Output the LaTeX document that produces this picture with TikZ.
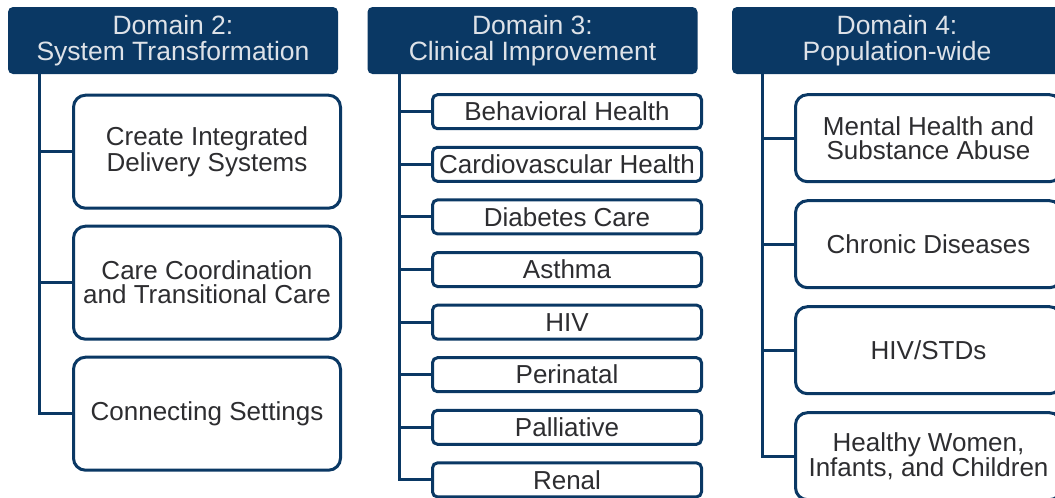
\documentclass[tikz,border=0pt]{standalone}
\usepackage{fontspec}
\setmainfont{Liberation Sans}
\usetikzlibrary{positioning}
\definecolor{navy}{RGB}{10,56,100}
\definecolor{inkgray}{RGB}{45,45,48}
\definecolor{paleink}{RGB}{222,226,232}
\tikzstyle{domainhead} = [rectangle, rounded corners=5pt, minimum width=330pt, minimum height=67pt, text centered, align=center, fill=navy, text=paleink, font=\fontsize{26.5}{26}\selectfont]
\tikzstyle{bigbox} = [rectangle, rounded corners=12pt, minimum width=267pt, minimum height=113pt, text centered, align=center, draw=navy, line width=3pt, fill=white, text=inkgray, font=\fontsize{26}{24}\selectfont]
\tikzstyle{slimbox} = [rectangle, rounded corners=5pt, minimum width=269pt, minimum height=34pt, inner sep=0pt, text centered, draw=navy, line width=3pt, fill=white, text=inkgray, font=\fontsize{26}{24}\selectfont]
\tikzstyle{midbox} = [rectangle, rounded corners=12pt, minimum width=266pt, minimum height=87pt, text centered, align=center, draw=navy, line width=3pt, fill=white, text=inkgray, font=\fontsize{26}{24}\selectfont]
\tikzstyle{link} = [navy, line width=3pt]

\begin{document}
\begin{tikzpicture}[x=1pt, y=1pt]
	\useasboundingbox (0,0) rectangle (1055,-498);
	\clip (0,0) rectangle (1055,-498);
	% headers
	\node (d2) [domainhead] at (173,-40.5) {Domain 2:\\System Transformation};
	\node (d3) [domainhead] at (532.5,-40.5) {Domain 3:\\Clinical Improvement};
	\node (d4) [domainhead] at (897,-40.5) {Domain 4:\\Population-wide};
	% domain 2
	\node (ts1) [bigbox, below=19.5pt of d2, xshift=34pt] {Create Integrated\\Delivery Systems};
	\node (ts2) [bigbox, below=15pt of ts1] {Care Coordination\\and Transitional Care};
	\node (ts3) [bigbox, below=15pt of ts2] {Connecting Settings};
	% domain 3
	\node (ci1) [slimbox, below=19pt of d3, xshift=34.5pt] {Behavioral Health};
	\node (ci2) [slimbox, below=15.6pt of ci1] {Cardiovascular Health};
	\node (ci3) [slimbox, below=15.6pt of ci2] {Diabetes Care};
	\node (ci4) [slimbox, below=15.6pt of ci3] {Asthma};
	\node (ci5) [slimbox, below=15.6pt of ci4] {HIV};
	\node (ci6) [slimbox, below=15.6pt of ci5] {Perinatal};
	\node (ci7) [slimbox, below=15.6pt of ci6] {Palliative};
	\node (ci8) [slimbox, below=15.6pt of ci7] {Renal};
	% domain 4
	\node (pw1) [midbox, below=19pt of d4, xshift=31.5pt] {Mental Health and\\Substance Abuse};
	\node (pw2) [midbox, below=16pt of pw1] {Chronic Diseases};
	\node (pw3) [midbox, below=16pt of pw2] {HIV/STDs};
	\node (pw4) [midbox, below=16pt of pw3] {Healthy Women,\\Infants, and Children};
	% trunks
	\coordinate (t2) at ([xshift=32pt]d2.south west);
	\coordinate (t3) at ([xshift=32pt]d3.south west);
	\coordinate (t4) at ([xshift=31pt]d4.south west);
	\draw [link] (t2) |- (ts1.west);
	\draw [link] (t2) |- (ts2.west);
	\draw [link] (t2) |- (ts3.west);
	\draw [link] (t3) |- (ci1.west);
	\draw [link] (t3) |- (ci2.west);
	\draw [link] (t3) |- (ci3.west);
	\draw [link] (t3) |- (ci4.west);
	\draw [link] (t3) |- (ci5.west);
	\draw [link] (t3) |- (ci6.west);
	\draw [link] (t3) |- (ci7.west);
	\draw [link] (t3) |- (ci8.west);
	\draw [link] (t4) |- (pw1.west);
	\draw [link] (t4) |- (pw2.west);
	\draw [link] (t4) |- (pw3.west);
	\draw [link] (t4) |- (pw4.west);
\end{tikzpicture}
\end{document}
